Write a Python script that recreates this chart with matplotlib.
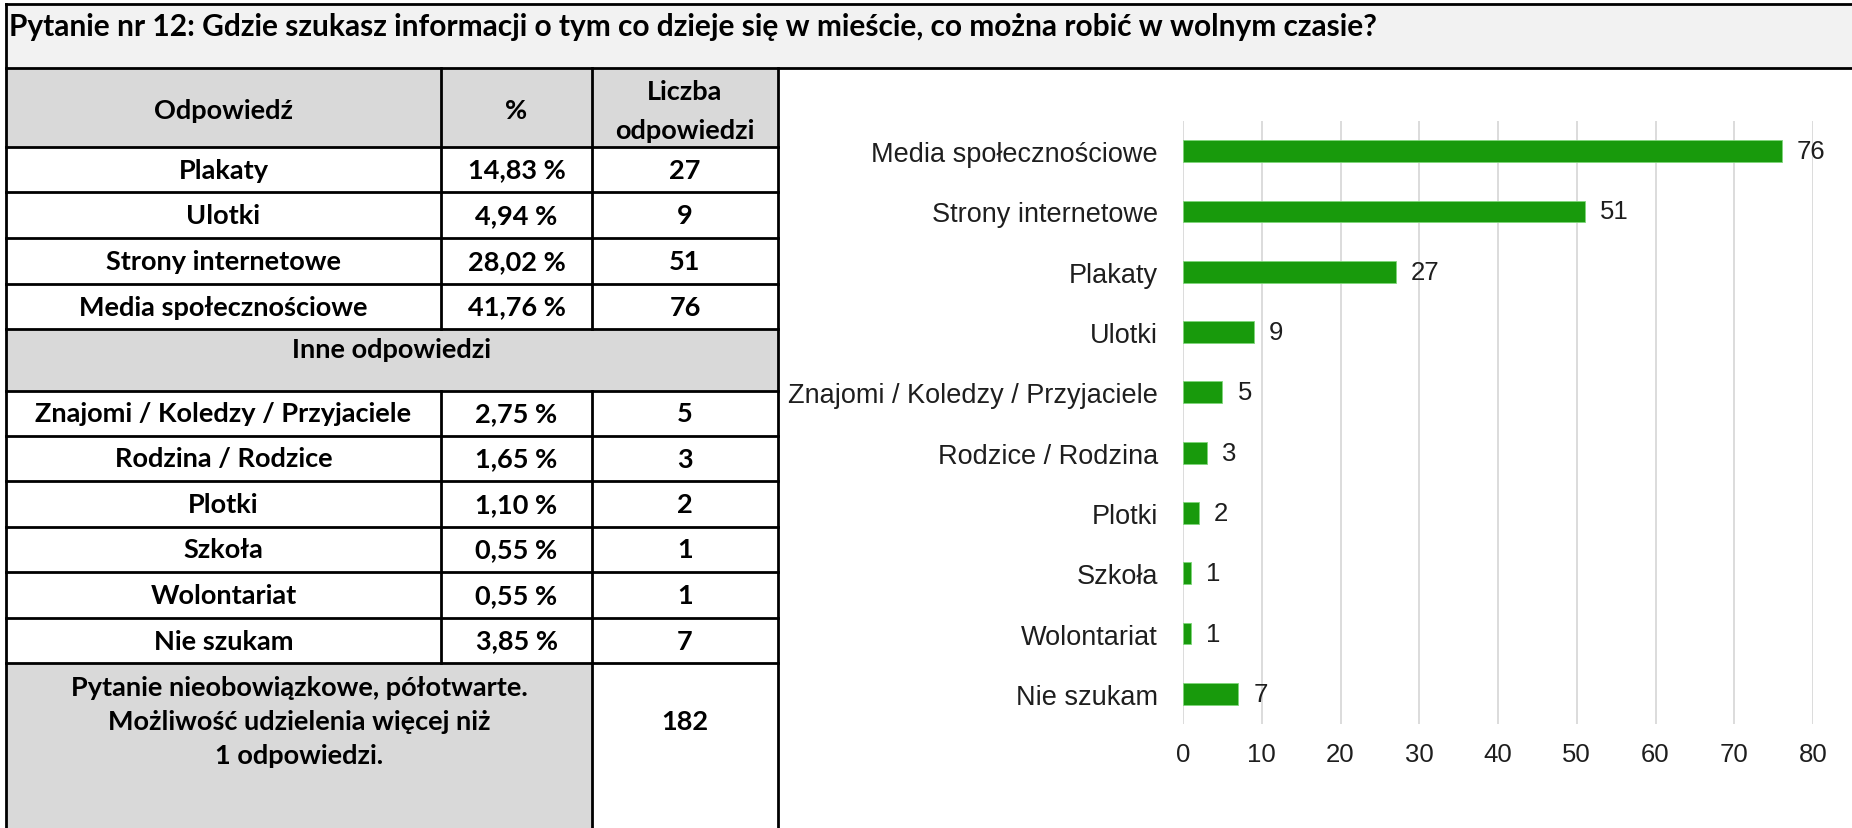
import matplotlib
matplotlib.use("Agg")
import matplotlib.pyplot as plt
from matplotlib import font_manager
from matplotlib.patches import Rectangle

# --- dane ---
title = "Pytanie nr 12: Gdzie szukasz informacji o tym co dzieje się w mieście, co można robić w wolnym czasie?"
main_answers = ["Plakaty", "Ulotki", "Strony internetowe", "Media społecznościowe"]
main_pct = ["14,83 %", "4,94 %", "28,02 %", "41,76 %"]
main_counts = [27, 9, 51, 76]
other_answers = ["Znajomi / Koledzy / Przyjaciele", "Rodzina / Rodzice", "Plotki",
                 "Szkoła", "Wolontariat", "Nie szukam"]
other_pct = ["2,75 %", "1,65 %", "1,10 %", "0,55 %", "0,55 %", "3,85 %"]
other_counts = [5, 3, 2, 1, 1, 7]
total = 182
footer_note = "Pytanie nieobowiązkowe, półotwarte.\nMożliwość udzielenia więcej niż\n1 odpowiedzi."

chart_labels = ["Media społecznościowe", "Strony internetowe", "Plakaty", "Ulotki",
                "Znajomi / Koledzy / Przyjaciele", "Rodzice / Rodzina", "Plotki",
                "Szkoła", "Wolontariat", "Nie szukam"]
chart_values = [76, 51, 27, 9, 5, 3, 2, 1, 1, 7]
x_ticks = [0, 10, 20, 30, 40, 50, 60, 70, 80]

W, H = 1852, 829
fig = plt.figure(figsize=(W / 100, H / 100), dpi=100)
bg = fig.add_axes([0, 0, 1, 1])
bg.set_xlim(0, W)
bg.set_ylim(H, 0)
bg.axis("off")

TF = "Lato"
FS = 19.5
lw = 2.0
GRAY = "#d9d9d9"

# kolumny i wiersze tabeli (piksele)
x0, x1, x2, x3 = 6, 441, 592, 778
rows = [148, 193, 239, 285, 330]
rows2 = [392, 437, 482, 528, 573, 619, 664]


def cell(x, y, s, **kw):
    bg.text(x, y, s, fontsize=FS, fontweight="bold", family=TF, ha="center", va="center", **kw)


# pasek tytułu
bg.add_patch(Rectangle((x0, 5), W - x0, 64, fc="#f2f2f2", ec="none"))
bg.text(9, 27, title, fontsize=21.5, fontweight="bold", family=TF, va="center", ha="left")

# nagłówek
bg.add_patch(Rectangle((x0, 69), x3 - x0, 148 - 69, fc=GRAY, ec="none"))
cell((x0 + x1) / 2, 111, "Odpowiedź")
cell((x1 + x2) / 2, 111, "%")
cell((x2 + x3) / 2, 111, "Liczba\nodpowiedzi", linespacing=1.75)

for i, (a, p, c) in enumerate(zip(main_answers, main_pct, main_counts)):
    yc = (rows[i] + rows[i + 1]) / 2
    cell((x0 + x1) / 2, yc, a)
    cell((x1 + x2) / 2, yc, p)
    cell((x2 + x3) / 2, yc, str(c))

# inne odpowiedzi
bg.add_patch(Rectangle((x0, 330), x3 - x0, 62, fc=GRAY, ec="none"))
cell((x0 + x3) / 2, 350, "Inne odpowiedzi")

for i, (a, p, c) in enumerate(zip(other_answers, other_pct, other_counts)):
    yc = (rows2[i] + rows2[i + 1]) / 2
    cell((x0 + x1) / 2, yc, a)
    cell((x1 + x2) / 2, yc, p)
    cell((x2 + x3) / 2, yc, str(c))

# stopka
bg.add_patch(Rectangle((x0, 664), x2 - x0, H - 664, fc=GRAY, ec="none"))
cell((x0 + x2) / 2, 722, footer_note, linespacing=1.5)
cell((x2 + x3) / 2, 722, str(total))

# linie tabeli
bg.plot([x0, W], [5, 5], color="k", lw=lw)
bg.plot([x0, W], [69, 69], color="k", lw=lw)
bg.plot([x0, x0], [5, H], color="k", lw=lw)
bg.plot([x3, x3], [69, H], color="k", lw=lw)
for y in [148] + rows[1:] + rows2:
    bg.plot([x0, x3], [y, y], color="k", lw=lw)
bg.plot([x1, x1], [69, 330], color="k", lw=lw)
bg.plot([x2, x2], [69, 330], color="k", lw=lw)
bg.plot([x1, x1], [392, 664], color="k", lw=lw)
bg.plot([x2, x2], [392, H], color="k", lw=lw)

# wykres słupkowy
names = {f.name for f in font_manager.fontManager.ttflist}
if "Liberation Sans Narrow" in names:
    NF, NFS = "Liberation Sans Narrow", 21
else:
    NF, NFS = "Liberation Sans", 18.5
CF = "Liberation Sans"
TXT = "#1e1e1e"

ax = fig.add_axes([1183 / W, 1 - 725 / H, (1813 - 1183) / W, (725 - 122) / H])
pos = list(range(len(chart_values)))
ax.barh(pos, chart_values, height=0.36, color="#189a0c", edgecolor="#7fd67a", linewidth=0.6, zorder=3)
ax.set_xlim(0, 80)
ax.set_ylim(len(chart_values) - 0.5, -0.5)
ax.set_xticks(x_ticks)
ax.set_xticklabels([str(t) for t in x_ticks], family=NF, fontsize=NFS, color=TXT)
ax.set_yticks(pos)
ax.set_yticklabels(chart_labels, family=CF, fontsize=19.5, color=TXT)
ax.tick_params(axis="both", length=0)
ax.tick_params(axis="x", pad=13)
ax.tick_params(axis="y", pad=18)
ax.grid(axis="x", color="#d6d6d6", lw=1.2, zorder=0)
for s in ax.spines.values():
    s.set_visible(False)
for p, v in zip(pos, chart_values):
    ax.annotate(str(v), (v, p), xytext=(11, 0), textcoords="offset points",
                va="center", ha="left", family=NF, fontsize=NFS, color=TXT)

fig.savefig("out.png", dpi=100)
